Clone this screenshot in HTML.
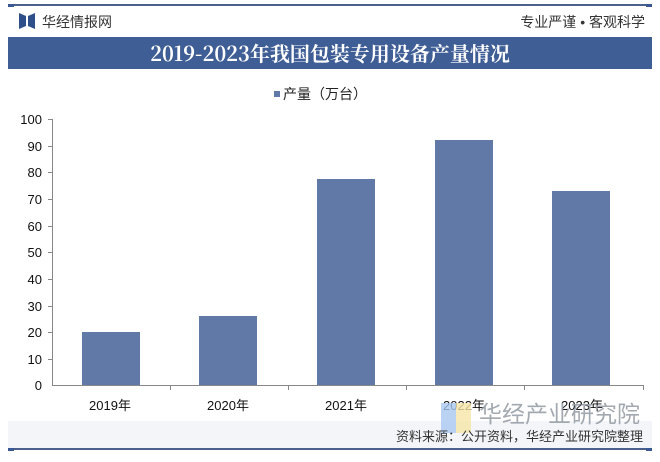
<!DOCTYPE html>
<html><head><meta charset="utf-8"><style>
body{margin:0;width:660px;height:462px;background:#fff;overflow:hidden;font-family:"Liberation Sans","Noto Sans CJK SC",sans-serif;}
</style></head><body>
<svg width="660" height="462" xmlns="http://www.w3.org/2000/svg" style="position:absolute;left:0;top:0">
<rect x="0" y="0" width="660" height="462" fill="#fff"/>
<line x1="8" y1="5" x2="652" y2="5" stroke="#4a5f8c" stroke-width="2"/>
<rect x="8" y="4" width="6" height="3" fill="#3a5894"/><rect x="646" y="4" width="6" height="3" fill="#3a5894"/>
<path d="M19 13 L26 16 L26 26 L19 29Z M28 16 L35 13 L35 29 L28 26Z" fill="#2f4f8a"/>
<text x="42" y="27" font-size="14" fill="#333">华经情报网</text>
<text x="645" y="27" font-size="14" fill="#333" text-anchor="end">专业严谨 • 客观科学</text>
<rect x="8" y="37" width="644" height="32" fill="#3f5e95"/>
<text x="330" y="61" font-size="20" font-weight="bold" fill="#fff" text-anchor="middle" font-family="'Noto Serif CJK SC','Liberation Serif',serif">2019-2023年我国包装专用设备产量情况</text>
<rect x="274" y="91" width="6" height="6" fill="#6179a6"/>
<text x="283" y="99" font-size="14" fill="#222">产量（万台）</text>
<g font-size="13" fill="#111" text-anchor="end">
<text x="42" y="124">100</text><text x="42" y="151">90</text><text x="42" y="177">80</text><text x="42" y="204">70</text><text x="42" y="231">60</text><text x="42" y="257">50</text><text x="42" y="284">40</text><text x="42" y="311">30</text><text x="42" y="337">20</text><text x="42" y="364">10</text><text x="42" y="390">0</text>
</g>
<g stroke="#888" stroke-width="1">
<line x1="52.5" y1="119" x2="52.5" y2="386"/>
<line x1="52" y1="385.5" x2="644" y2="385.5"/>
<line x1="48" y1="119.5" x2="52" y2="119.5"/><line x1="48" y1="146.5" x2="52" y2="146.5"/><line x1="48" y1="172.5" x2="52" y2="172.5"/><line x1="48" y1="199.5" x2="52" y2="199.5"/><line x1="48" y1="226.5" x2="52" y2="226.5"/><line x1="48" y1="252.5" x2="52" y2="252.5"/><line x1="48" y1="279.5" x2="52" y2="279.5"/><line x1="48" y1="306.5" x2="52" y2="306.5"/><line x1="48" y1="332.5" x2="52" y2="332.5"/><line x1="48" y1="359.5" x2="52" y2="359.5"/>
<line x1="170.5" y1="385" x2="170.5" y2="390"/><line x1="288.5" y1="385" x2="288.5" y2="390"/><line x1="406.5" y1="385" x2="406.5" y2="390"/><line x1="524.5" y1="385" x2="524.5" y2="390"/><line x1="643.5" y1="385" x2="643.5" y2="390"/>
</g>
<g fill="#6179a6">
<rect x="82" y="332" width="58" height="53"/>
<rect x="199" y="316" width="58" height="69"/>
<rect x="317" y="179" width="58" height="206"/>
<rect x="435" y="140" width="58" height="245"/>
<rect x="552" y="191" width="58" height="194"/>
</g>
<g font-size="13" fill="#111" text-anchor="middle">
<text x="110" y="410">2019年</text><text x="228" y="410">2020年</text><text x="346" y="410">2021年</text><text x="464" y="410">2022年</text><text x="582" y="410">2023年</text>
</g>
<rect x="8" y="421" width="644" height="28" fill="#f3f5f8"/>
<rect x="441" y="403" width="15" height="30" fill="#aac8f0" opacity="0.8"/>
<rect x="456" y="403" width="15" height="30" fill="#f6e6a8" opacity="0.8"/>
<text x="640" y="422" font-size="23" fill="#9aa0a8" text-anchor="end" opacity="0.9">华经产业研究院</text>
<text x="643" y="441" font-size="13" fill="#333" text-anchor="end">资料来源：公开资料，华经产业研究院整理</text>
<line x1="8" y1="449" x2="652" y2="449" stroke="#4a5f8c" stroke-width="2"/>
<rect x="8" y="448" width="6" height="3" fill="#3a5894"/><rect x="646" y="448" width="6" height="3" fill="#3a5894"/>
</svg>
</body></html>
